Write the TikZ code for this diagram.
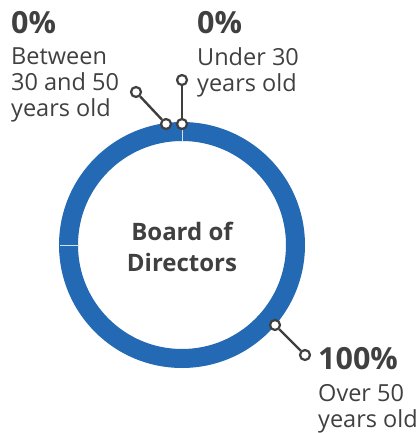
\documentclass[tikz,border=0pt]{standalone}
\usepackage{fontspec}
\setmainfont{Open Sans}
\definecolor{txt}{HTML}{404040}
\definecolor{ringblue}{HTML}{2369B3}
\definecolor{mk}{HTML}{3F3F3F}
\tikzset{
  big/.style={font=\fontsize{30.5}{34}\selectfont\bfseries, text=txt, inner sep=0pt, anchor=base west},
  lbl/.style={font=\fontsize{23.5}{26}\selectfont, text=txt, inner sep=0pt, anchor=north west, align=left},
  ctr/.style={font=\fontsize{24}{31}\selectfont\bfseries, text=txt, align=center, inner sep=0pt},
  dot/.style={circle, draw=mk, fill=white, line width=2.2pt, minimum size=10pt, inner sep=0pt},
  lead/.style={draw=mk, line width=2.4pt}
}
\begin{document}
\begin{tikzpicture}[x=1pt,y=-1pt]
\useasboundingbox (0,0) rectangle (418,433);
% ring
\coordinate (c) at (182,245);
\draw[ringblue, line width=19pt] (c) circle (113.5);
\draw[white!80!ringblue, line width=0.6pt] (60,245) -- (79,245);
\draw[white!80!ringblue, line width=0.6pt] (182,122) -- (182,141);
\node[ctr] (title) at (182,247) {Board of\\Directors};
% markers
\node[dot] (d1) at (166,124) {};
\node[dot] (d1e) at (136,92) {};
\node[dot] (d2) at (182,124) {};
\node[dot] (d2e) at (182,80) {};
\node[dot] (d3) at (275,325) {};
\node[dot] (d3e) at (305,355) {};
\draw[lead] (d1) -- (d1e);
\draw[lead] (d2) -- (d2e);
\draw[lead] (d3) -- (d3e);
% labels
\node[big] (p1) at (11,34) {0\%};
\node[lbl] (t1) at (11,47.5) {Between\\30 and 50\\years old};
\node[big] (p2) at (197,34) {0\%};
\node[lbl] (t2) at (197,47.5) {Under 30\\years old};
\node[big] (p3) at (318,369) {100\%};
\node[lbl] (t3) at (318,384) {Over 50\\years old};
\end{tikzpicture}
\end{document}
